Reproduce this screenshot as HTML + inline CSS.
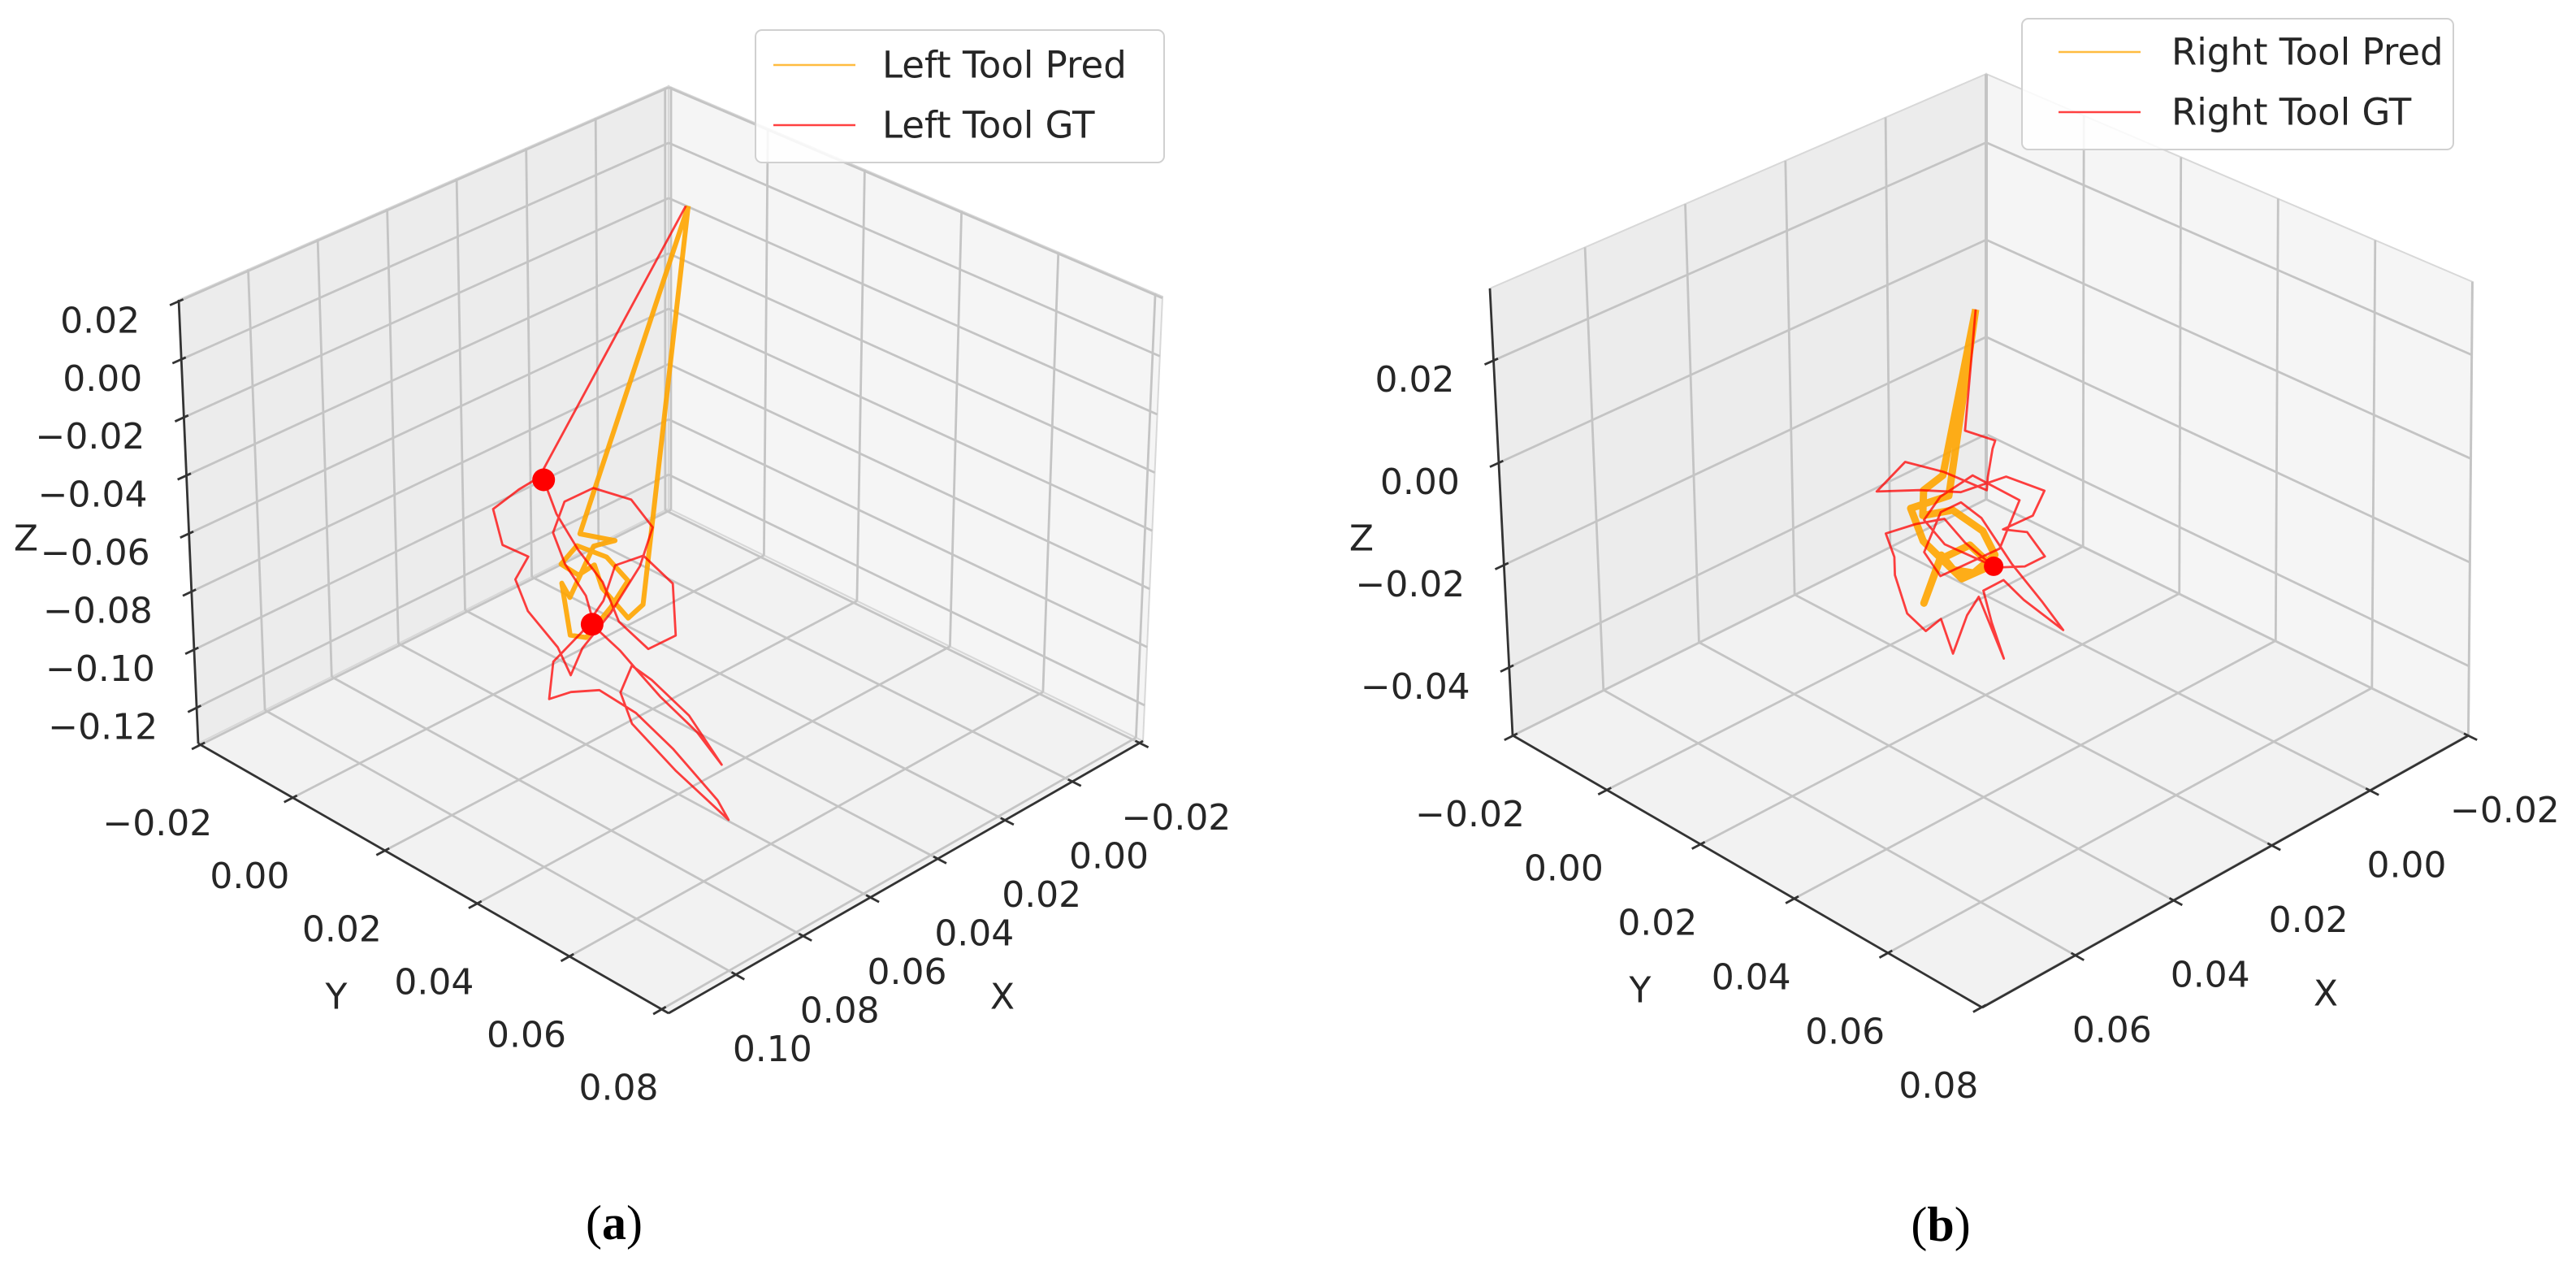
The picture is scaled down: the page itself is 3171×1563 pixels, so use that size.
<!DOCTYPE html>
<html><head><meta charset="utf-8"><style>
html,body{margin:0;padding:0;background:#fff;}
svg{display:block;}
text{font-family:"DejaVu Sans","Liberation Sans",sans-serif;fill:#262626;}
.cap{font-family:"Liberation Serif",serif;fill:#000;}
</style></head><body>
<svg id="fig" width="3171" height="1563" viewBox="0 0 3171 1563" xmlns="http://www.w3.org/2000/svg">
<g id="chartA"></g>
<g id="chartB"></g>
<text class="cap" x="756" y="1525" text-anchor="middle" font-size="60">(<tspan font-weight="bold">a</tspan>)</text>
<text class="cap" x="2389" y="1527" text-anchor="middle" font-size="60">(<tspan font-weight="bold">b</tspan>)</text>
</svg>
<script>
// ---------- data: left tool ----------
const leftXTicks=[-0.02,0,0.02,0.04,0.06,0.08,0.10];
const leftYTicks=[-0.02,0,0.02,0.04,0.06,0.08];
const leftZTicks=[-0.12,-0.10,-0.08,-0.06,-0.04,-0.02,0,0.02];
const leftGtX=[0.0234,0.0661,0.0734,0.0782,0.0770,0.0709,0.0734,0.0685,0.0612,0.0588,0.0539,0.0441,0.0368,0.0344,0.0393,0.0490,0.0588,0.0636,0.0588,0.0514,0.0502,0.0441,0.0368,0.0295,0.0198,0.0137,0.0222,0.0320,0.0393,0.0441,0.0393,0.0247,0.0101,0.0149,0.0271,0.0368,0.0490,0.0588,0.0639,0.0612,0.0539,0.0490,0.0441,0.0344,0.0271,0.0276,0.0344,0.0417,0.0478,0.0563,0.0612,0.0648];
const leftGtY=[0.015,0.015,0.016,0.014,0.015,0.016,0.015,0.014,0.015,0.016,0.015,0.014,0.015,0.016,0.015,0.014,0.015,0.016,0.015,0.014,0.015,0.016,0.015,0.014,0.015,0.016,0.015,0.014,0.015,0.016,0.015,0.014,0.015,0.016,0.015,0.014,0.015,0.016,0.015,0.014,0.015,0.016,0.015,0.014,0.015,0.016,0.015,0.014,0.015,0.016,0.015,0.015];
const leftGtZ=[0.0291,-0.0409,-0.0401,-0.0457,-0.0579,-0.0646,-0.0718,-0.0864,-0.1024,-0.1126,-0.1070,-0.1015,-0.0888,-0.0759,-0.0642,-0.0553,-0.0535,-0.0606,-0.0751,-0.0912,-0.1020,-0.1130,-0.1263,-0.1395,-0.1571,-0.1715,-0.1498,-0.1322,-0.1219,-0.1275,-0.1421,-0.1685,-0.1940,-0.1832,-0.1583,-0.1407,-0.1245,-0.1184,-0.1186,-0.1082,-0.1013,-0.0927,-0.0842,-0.0874,-0.1007,-0.1177,-0.1191,-0.1060,-0.0878,-0.0708,-0.0563,-0.0425];
const leftPredX=[0.0227,0.0359,0.0417,0.0466,0.0502,0.0563,0.0600,0.0539,0.0466,0.0417,0.0454,0.0514,0.0575,0.0612,0.0575,0.0490,0.0441,0.0544,0.0227];
const leftPredY=[0.015,0.015,0.016,0.014,0.015,0.016,0.015,0.014,0.015,0.016,0.015,0.014,0.015,0.016,0.015,0.014,0.015,0.015,0.015];
const leftPredZ=[0.0287,-0.1027,-0.1031,-0.0914,-0.0804,-0.0795,-0.0744,-0.0724,-0.0798,-0.0901,-0.0979,-0.1057,-0.1004,-0.0794,-0.0874,-0.0754,-0.0756,-0.0672,0.0287];
const leftMarkX=[0.0648,0.0510];
const leftMarkY=[0.015,0.015];
const leftMarkZ=[-0.0425,-0.1005];
// ---------- data: right tool ----------
const rightXTicks=[-0.02,0,0.02,0.04,0.06];
const rightYTicks=[-0.02,0,0.02,0.04,0.06,0.08];
const rightZTicks=[-0.04,-0.02,0,0.02];
const rightGtX=[0.0212,0.0236,0.0185,0.0171,0.0191,0.0203,0.0280,0.0348,0.0416,0.0339,0.0246,0.0144,0.0076,0.0110,0.0161,0.0102,0.0076,0.0127,0.0178,0.0229,0.0280,0.0348,0.0399,0.0373,0.0382,0.0368,0.0321,0.0280,0.0266,0.0246,0.0212,0.0152,0.0186,0.0212,0.0161,0.0110,0.0039,0.0093,0.0144,0.0195,0.0246,0.0297,0.0322,0.0280,0.0229,0.0178,0.0127,0.0212,0.0288,0.0331,0.0280,0.0181];
const rightGtY=[0.02,0.02,0.021,0.019,0.02,0.021,0.02,0.019,0.02,0.021,0.02,0.019,0.02,0.021,0.02,0.019,0.02,0.021,0.02,0.019,0.02,0.021,0.02,0.019,0.02,0.021,0.02,0.019,0.02,0.021,0.02,0.019,0.02,0.021,0.02,0.019,0.02,0.021,0.02,0.019,0.02,0.021,0.02,0.019,0.02,0.021,0.02,0.019,0.02,0.021,0.02,0.02];
const rightGtZ=[0.0231,0.0004,-0.0035,-0.0067,-0.0109,-0.0124,-0.0056,-0.0009,-0.0030,-0.0059,-0.0112,-0.0135,-0.0191,-0.0219,-0.0226,-0.0265,-0.0321,-0.0311,-0.0293,-0.0224,-0.0148,-0.0121,-0.0120,-0.0183,-0.0209,-0.0286,-0.0348,-0.0349,-0.0419,-0.0349,-0.0334,-0.0490,-0.0397,-0.0317,-0.0326,-0.0395,-0.0485,-0.0396,-0.0302,-0.0192,-0.0132,-0.0122,-0.0193,-0.0265,-0.0258,-0.0251,-0.0185,-0.0100,-0.0101,-0.0121,-0.0198,-0.0289];
const rightPredX=[0.0212,0.0282,0.0331,0.0314,0.0263,0.0212,0.0178,0.0212,0.0263,0.0297,0.0324,0.0280,0.0229,0.0195,0.0246,0.0314,0.0348,0.0280,0.0212];
const rightPredY=[0.02,0.02,0.021,0.019,0.02,0.021,0.02,0.019,0.02,0.021,0.02,0.019,0.02,0.021,0.02,0.019,0.02,0.021,0.02];
const rightPredZ=[0.0231,-0.0062,-0.0063,-0.0130,-0.0139,-0.0200,-0.0268,-0.0292,-0.0256,-0.0206,-0.0292,-0.0232,-0.0224,-0.0276,-0.0282,-0.0180,-0.0095,-0.0098,0.0231];
const rightMarkX=[0.0181];
const rightMarkY=[0.02];
const rightMarkZ=[-0.0289];

const NS="http://www.w3.org/2000/svg";
function mk(parent,tag,attrs){const e=document.createElementNS(NS,tag);for(const k in attrs)e.setAttribute(k,attrs[k]);parent.appendChild(e);return e;}
function fmt(v){return (v<-1e-9?'\u2212':'')+Math.abs(v).toFixed(2);}

function drawChart(g,cfg){
  const C=cfg.corners;
  function proj(p,q,r){
    const w=[(1-p)*(1-q)*(1-r),p*(1-q)*(1-r),(1-p)*q*(1-r),p*q*(1-r),(1-p)*(1-q)*r,p*(1-q)*r,(1-p)*q*r,p*q*r];
    const pts=[C.b0,C.l0,C.r0,C.f0,C.b1,C.l1,C.r1,C.f1];
    let x=0,y=0;for(let i=0;i<8;i++){x+=w[i]*pts[i][0];y+=w[i]*pts[i][1];}return [x,y];
  }
  const P=x=>(x-cfg.xr[0])/(cfg.xr[1]-cfg.xr[0]);
  const Q=y=>(y-cfg.yr[0])/(cfg.yr[1]-cfg.yr[0]);
  const R=z=>(z-cfg.zr[0])/(cfg.zr[1]-cfg.zr[0]);
  const pt=(x,y,z)=>proj(P(x),Q(y),R(z));
  const poly=a=>a.map(p=>p[0].toFixed(1)+','+p[1].toFixed(1)).join(' ');
  const paneL=mk(g,'polygon',{points:poly([C.b0,C.l0,C.l1,C.b1]),fill:'#ececec',stroke:'#d8d8d8','stroke-width':2});
  
  
  const paneR=mk(g,'polygon',{points:poly([C.b0,C.r0,C.r1,C.b1]),fill:'#f5f5f5',stroke:'#d8d8d8','stroke-width':2});
  
  
  const paneF=mk(g,'polygon',{points:poly([C.b0,C.l0,C.f0,C.r0]),fill:'#f2f2f2',stroke:'#d8d8d8','stroke-width':2});
  
  
  const grid=mk(g,'g',{stroke:'#c4c4c4','stroke-width':2.8,fill:'none'});
  
  
  const line=(a,b,par,st)=>mk(par,'line',Object.assign({x1:a[0].toFixed(1),y1:a[1].toFixed(1),x2:b[0].toFixed(1),y2:b[1].toFixed(1)},st||{}));
  cfg.xt.forEach(v=>{const p=P(v);if(p<-0.001||p>1.001)return;
    line(proj(p,0,0),proj(p,0,1),grid);line(proj(p,0,0),proj(p,1,0),grid);});
  cfg.yt.forEach(v=>{const q=Q(v);if(q<-0.001||q>1.001)return;
    line(proj(0,q,0),proj(0,q,1),grid);line(proj(0,q,0),proj(1,q,0),grid);});
  cfg.zt.forEach(v=>{const r=R(v);if(r<-0.001||r>1.001)return;
    line(proj(0,0,r),proj(1,0,r),grid);line(proj(0,0,r),proj(0,1,r),grid);});
  const ax=mk(g,'g',{stroke:'#333','stroke-width':2.8,fill:'none'});
  
  
  line(C.l0,C.l1,ax);line(C.l0,C.f0,ax);line(C.f0,C.r0,ax);
  const lab=mk(g,'g',{'font-size':44});
  
  
  cfg.zt.forEach(v=>{const r=R(v);const a=proj(1,0,r),b=proj(0.97,0,r);
    const d=[a[0]-b[0],a[1]-b[1]];const n=Math.hypot(d[0],d[1]);
    line([a[0]-d[0]/n*6,a[1]-d[1]/n*6],[a[0]+d[0]/n*12,a[1]+d[1]/n*12],ax);
    const t=mk(lab,'text',{x:(a[0]-48).toFixed(1),y:(a[1]+24).toFixed(1),'text-anchor':'end','dominant-baseline':'central'});t.textContent=fmt(v);
    
    });
  cfg.yt.forEach(v=>{const q=Q(v);const a=proj(1,q,0),b=proj(0.97,q,0);
    const d=[a[0]-b[0],a[1]-b[1]];const n=Math.hypot(d[0],d[1]);
    line([a[0]-d[0]/n*6,a[1]-d[1]/n*6],[a[0]+d[0]/n*12,a[1]+d[1]/n*12],ax);
    const t=mk(lab,'text',{x:(a[0]-53).toFixed(1),y:(a[1]+97).toFixed(1),'text-anchor':'middle','dominant-baseline':'central'});t.textContent=fmt(v);
    
    });
  cfg.xt.forEach(v=>{const p=P(v);const a=proj(p,1,0),b=proj(p,0.97,0);
    const d=[a[0]-b[0],a[1]-b[1]];const n=Math.hypot(d[0],d[1]);
    line([a[0]-d[0]/n*6,a[1]-d[1]/n*6],[a[0]+d[0]/n*12,a[1]+d[1]/n*12],ax);
    const t=mk(lab,'text',{x:(a[0]+45).toFixed(1),y:(a[1]+92).toFixed(1),'text-anchor':'middle','dominant-baseline':'central'});t.textContent=fmt(v);
    
    });
  [['Z',cfg.zl,'z-axis-title'],['Y',cfg.yl,'y-axis-title'],['X',cfg.xl,'x-axis-title']].forEach(a=>{
    const t=mk(g,'text',{x:a[1][0],y:a[1][1],'text-anchor':'middle','dominant-baseline':'central','font-size':44});t.textContent=a[0];
    
    });
  const pr=mk(g,'polyline',{points:poly(cfg.prX.map((x,i)=>pt(x,cfg.prY[i],cfg.prZ[i]))),fill:'none',stroke:'#ffa500','stroke-opacity':0.9,'stroke-width':cfg.prW,'stroke-linejoin':'round'});
  
  
  const gt=mk(g,'polyline',{points:poly(cfg.gtX.map((x,i)=>pt(x,cfg.gtY[i],cfg.gtZ[i]))),fill:'none',stroke:'#ff0000','stroke-opacity':0.75,'stroke-width':2.8,'stroke-linejoin':'round'});
  
  
  cfg.mX.forEach((x,i)=>{const s=pt(x,cfg.mY[i],cfg.mZ[i]);
    const c=mk(g,'circle',{cx:s[0].toFixed(1),cy:s[1].toFixed(1),r:cfg.mR,fill:'#ff0000'});
    
    });
  const L=cfg.leg;
  const lg=mk(g,'g',{});
  
  
  mk(lg,'rect',{x:L.x,y:L.y,width:L.w,height:L.h,rx:8,fill:'#fff','fill-opacity':0.85,stroke:'#d0d0d0','stroke-width':2});
  [[L.l1,'#ffa500',L.y1,'legend-entry-pred'],[L.l2,'#ff0000',L.y2,'legend-entry-gt']].forEach(e=>{
    const eg=mk(lg,'g',{});
    
    
    mk(eg,'line',{x1:L.lx,y1:e[2],x2:L.lx+101,y2:e[2],stroke:e[1],'stroke-opacity':0.75,'stroke-width':2.6});
    const t=mk(eg,'text',{x:L.tx,y:e[2],'dominant-baseline':'central','font-size':45});t.textContent=e[0];});
}

drawChart(document.getElementById('chartA'),{
  corners:{b0:[823,626],l0:[244,915],r0:[1407,912],f0:[823,1247],b1:[823,106],l1:[220,369],r1:[1431,365],f1:[823,672]},
  xr:[-0.021,0.120],yr:[-0.0205,0.0815],zr:[-0.1323,0.0205],
  xt:leftXTicks,yt:leftYTicks,zt:leftZTicks,
  zl:[32,663],yl:[414,1227],xl:[1234,1227],
  gtX:leftGtX,gtY:leftGtY,gtZ:leftGtZ,prX:leftPredX,prY:leftPredY,prZ:leftPredZ,prW:6,
  mX:leftMarkX,mY:leftMarkY,mZ:leftMarkZ,mR:14,
  leg:{x:930,y:37,w:503,h:163,lx:952,tx:1086,y1:80,y2:154,l1:'Left Tool Pred',l2:'Left Tool GT'}
});
drawChart(document.getElementById('chartB'),{
  corners:{b0:[2445,614],l0:[1862,905],r0:[3039,905],f0:[2440,1240],b1:[2445,91],l1:[1834,355],r1:[3044,347],f1:[2440,662]},
  xr:[-0.0201,0.079],yr:[-0.0201,0.0801],zr:[-0.0533,0.0341],
  xt:rightXTicks,yt:rightYTicks,zt:rightZTicks,
  zl:[1676,663],yl:[2019,1219],xl:[2863,1223],
  gtX:rightGtX,gtY:rightGtY,gtZ:rightGtZ,prX:rightPredX,prY:rightPredY,prZ:rightPredZ,prW:9,
  mX:rightMarkX,mY:rightMarkY,mZ:rightMarkZ,mR:12,
  leg:{x:2489,y:23,w:531,h:161,lx:2534,tx:2673,y1:64,y2:138,l1:'Right Tool Pred',l2:'Right Tool GT'}
});
</script>
</body></html>
